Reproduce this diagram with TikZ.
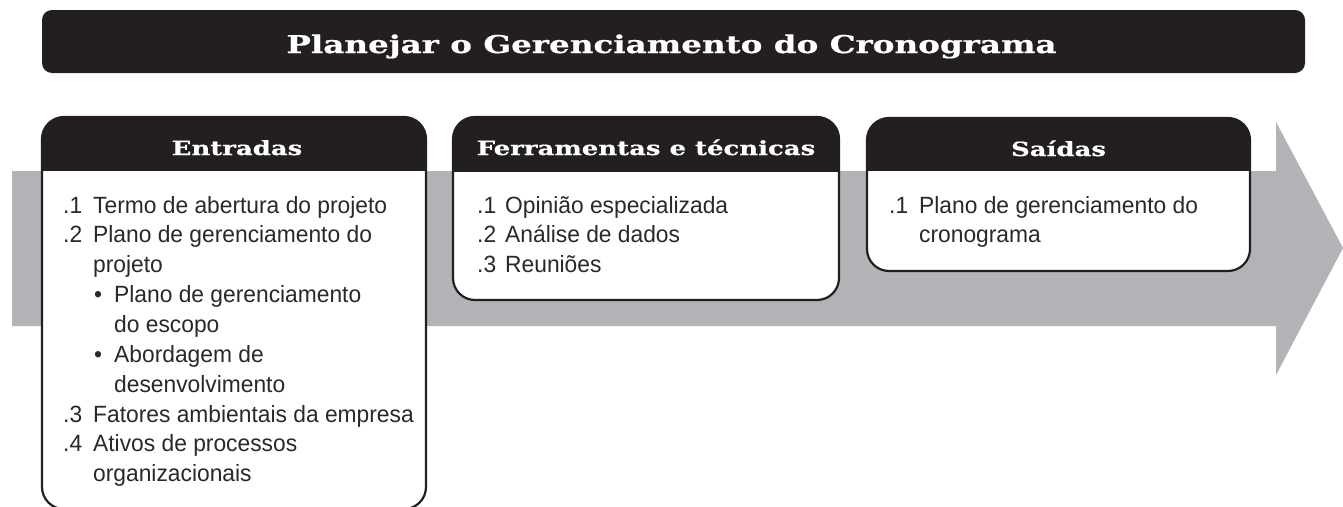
\documentclass[tikz,border=0pt]{standalone}
\usepackage{fontspec}
\newfontfamily\bodyfont[FakeStretch=0.97]{Liberation Sans}
\newfontfamily\slabfont[FakeStretch=1.33, FakeBold=0.6]{DejaVu Serif}
\definecolor{dark}{HTML}{231F20}
\definecolor{arrowgray}{HTML}{B1B3B6}
\definecolor{txt}{HTML}{2B2829}
\tikzset{
  boxline/.style={draw=dark, line width=2.2pt, rounded corners=22pt},
  hdr/.style={anchor=base, inner sep=0pt, text=white, font=\slabfont\bfseries\fontsize{19.5}{22}\selectfont},
  ln/.style={anchor=base west, inner sep=0pt, text=txt, font=\bodyfont\fontsize{23.5}{28}\selectfont},
}
\newcommand\procbox[5]{%
  \begin{scope}
    \clip[rounded corners=22pt] (#1,#2) rectangle (#3,#4);
    \fill[white] (#1,#2) rectangle (#3,#4);
    \fill[dark] (#1,#2) rectangle (#3,#5);
  \end{scope}
  \draw[boxline] (#1,#2) rectangle (#3,#4);
}
\begin{document}
\begin{tikzpicture}[x=1pt,y=-1pt]
\useasboundingbox (0,0) rectangle (1343,506);
% big arrow
\fill[arrowgray] (12,171) -- (1276,171) -- (1276,122) -- (1343,248) -- (1276,375) -- (1276,326) -- (12,326) -- cycle;
% title bar
\fill[dark, rounded corners=10pt] (42,10) rectangle (1305,73);
\node[anchor=base, inner sep=0pt, text=white, font=\slabfont\bfseries\fontsize{24.5}{28}\selectfont] (title) at (671.5,53) {Planejar o Gerenciamento do Cronograma};
% boxes
\procbox{42}{117}{426}{509}{171}
\procbox{453}{117}{839}{300}{172}
\procbox{867}{118}{1250}{271}{171}
\node[hdr] (hin) at (237,155) {Entradas};
\node[hdr] (htt) at (646,155) {Ferramentas e técnicas};
\node[hdr] (hout) at (1058.5,156) {Saídas};
% Entradas
\node[ln] (e1n) at (63,213) {.1};
\node[ln] (e1) at (93,213) {Termo de abertura do projeto};
\node[ln] (e2n) at (63,242.9) {.2};
\node[ln] (e2) at (93,242.9) {Plano de gerenciamento do};
\node[ln] (e2b) at (93,272.7) {projeto};
\node[ln] (e2c) at (94,302.6) {•};
\node[ln] (e2d) at (114,302.6) {Plano de gerenciamento};
\node[ln] (e2e) at (114,332.4) {do escopo};
\node[ln] (e2f) at (94,362.3) {•};
\node[ln] (e2g) at (114,362.3) {Abordagem de};
\node[ln] (e2h) at (114,392.1) {desenvolvimento};
\node[ln] (e3n) at (63,422) {.3};
\node[ln] (e3) at (93,422) {Fatores ambientais da empresa};
\node[ln] (e4n) at (63,451.8) {.4};
\node[ln] (e4) at (93,451.8) {Ativos de processos};
\node[ln] (e4b) at (93,481.7) {organizacionais};
% Ferramentas
\node[ln] (t1n) at (477,213) {.1};
\node[ln] (t1) at (505,213) {Opinião especializada};
\node[ln] (t2n) at (477,242.9) {.2};
\node[ln] (t2) at (505,242.9) {Análise de dados};
\node[ln] (t3n) at (477,272.7) {.3};
\node[ln] (t3) at (505,272.7) {Reuniões};
% Saidas
\node[ln] (o1n) at (889,213) {.1};
\node[ln] (o1) at (919,213) {Plano de gerenciamento do};
\node[ln] (o1b) at (919,242.9) {cronograma};
\end{tikzpicture}
\end{document}
